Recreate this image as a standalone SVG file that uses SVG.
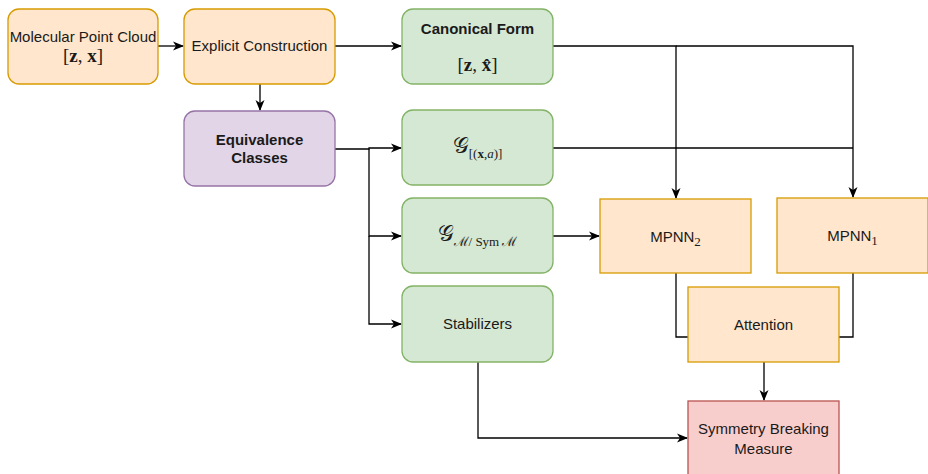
<svg xmlns="http://www.w3.org/2000/svg" width="928" height="474" viewBox="0 0 928 474">
<defs>
<marker id="arr" viewBox="0 0 11 11" refX="10" refY="5.5" markerWidth="11" markerHeight="11" markerUnits="userSpaceOnUse" orient="auto">
<path d="M0,1 L11,5.5 L0,10 L3,5.5 Z" fill="#000"/>
</marker>
<style>
.orange{fill:#ffe6cc;stroke:#d79b00;stroke-width:1.3}
.purple{fill:#e1d5e7;stroke:#9673a6;stroke-width:1.3}
.green{fill:#d5e8d4;stroke:#82b366;stroke-width:1.3}
.red{fill:#f8cecc;stroke:#b85450;stroke-width:1.3}
text{font-family:"Liberation Sans",Arial,sans-serif;font-size:15px;fill:#1a1a1a;text-anchor:middle}
.b{font-weight:bold}
.m{font-family:"Liberation Serif","DejaVu Serif",serif;font-size:19px}
.mb{font-family:"Liberation Serif","DejaVu Serif",serif;font-weight:bold}
.sub{font-family:"Liberation Serif","DejaVu Serif",serif;font-size:13px}
.c{fill:none;stroke:#000;stroke-width:1.3}
</style>
</defs>
<g id="connectors">
<path class="c" d="M158,46 H183" marker-end="url(#arr)"/>
<path class="c" d="M335,46 H401" marker-end="url(#arr)"/>
<path class="c" d="M260,84 V110" marker-end="url(#arr)"/>
<path class="c" d="M335,149 H369 V148 H401" marker-end="url(#arr)"/>
<path class="c" d="M369,149 V236 H401" marker-end="url(#arr)"/>
<path class="c" d="M369,236 V324 H401" marker-end="url(#arr)"/>
<path class="c" d="M553,46 H676 V198" marker-end="url(#arr)"/>
<path class="c" d="M676,46 H853 V197" marker-end="url(#arr)"/>
<path class="c" d="M553,148 H853"/>
<path class="c" d="M553,236 H599" marker-end="url(#arr)"/>
<path class="c" d="M676,273 V337 H688"/>
<path class="c" d="M853,273 V337 H839"/>
<path class="c" d="M764,362 V400" marker-end="url(#arr)"/>
<path class="c" d="M478,362 V438 H687" marker-end="url(#arr)"/>
</g>
<g id="molecular-point-cloud">
<rect class="orange" x="8" y="9" width="150" height="75" rx="11"/>
<text x="83" y="42">Molecular Point Cloud</text>
<text x="83" y="62" class="m"><tspan>[</tspan><tspan class="mb">z</tspan><tspan>, </tspan><tspan class="mb">x</tspan><tspan>]</tspan></text>
</g>
<g id="explicit-construction">
<rect class="orange" x="184" y="9" width="151" height="75" rx="11"/>
<text x="259.5" y="51">Explicit Construction</text>
</g>
<g id="equivalence-classes">
<rect class="purple" x="184" y="111" width="151" height="75" rx="11"/>
<text x="259.5" y="145" class="b">Equivalence</text>
<text x="259.5" y="163" class="b">Classes</text>
</g>
<g id="canonical-form">
<rect class="green" x="402" y="9" width="151" height="75" rx="11"/>
<text x="477.5" y="34" class="b">Canonical Form</text>
<text x="477.5" y="71" class="m"><tspan>[</tspan><tspan class="mb">z</tspan><tspan>, </tspan><tspan class="mb">x̂</tspan><tspan>]</tspan></text>
</g>
<g id="g-orbit">
<rect class="green" x="402" y="110" width="151" height="75" rx="11"/>
<text x="477.5" y="153" class="m"><tspan font-size="22">𝒢</tspan><tspan class="sub" dy="5">[(</tspan><tspan class="sub" font-weight="bold">x</tspan><tspan class="sub">,</tspan><tspan class="sub" font-style="italic">a</tspan><tspan class="sub">)]</tspan></text>
</g>
<g id="g-quotient">
<rect class="green" x="402" y="198" width="151" height="75" rx="11"/>
<text x="477.5" y="241" class="m"><tspan font-size="22">𝒢</tspan><tspan class="sub" dy="5">ℳ</tspan><tspan class="sub">/ Sym </tspan><tspan class="sub">ℳ</tspan></text>
</g>
<g id="stabilizers">
<rect class="green" x="402" y="286" width="151" height="76" rx="11"/>
<text x="477.5" y="329">Stabilizers</text>
</g>
<g id="mpnn2">
<rect class="orange" x="600" y="199" width="151" height="74"/>
<text x="675.5" y="242"><tspan>MPNN</tspan><tspan class="sub" dy="4">2</tspan></text>
</g>
<g id="mpnn1">
<rect class="orange" x="777" y="198" width="151" height="75"/>
<text x="852.5" y="241"><tspan>MPNN</tspan><tspan class="sub" dy="4">1</tspan></text>
</g>
<g id="attention">
<rect class="orange" x="688" y="287" width="151" height="75"/>
<text x="763.5" y="330">Attention</text>
</g>
<g id="symmetry-breaking-measure">
<rect class="red" x="688" y="401" width="151" height="76"/>
<text x="763.5" y="434">Symmetry Breaking</text>
<text x="763.5" y="454">Measure</text>
</g>
</svg>
